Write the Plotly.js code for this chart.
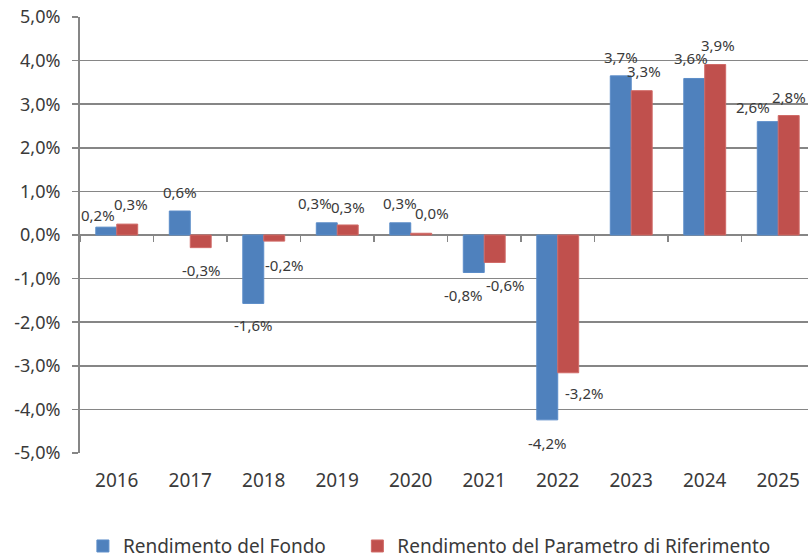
<!DOCTYPE html>
<html>
<head>
<meta charset="utf-8">
<script src="https://cdn.plot.ly/plotly-3.0.1.min.js"></script>
<style>html,body{margin:0;padding:0;background:#fff;}#chart{width:808px;height:558px;}</style>
</head>
<body>
<div id="chart"></div>
<script>
// ---- data ----
const years = ['2016','2017','2018','2019','2020','2021','2022','2023','2024','2025'];
const fondo = [0.18, 0.55, -1.57, 0.28, 0.28, -0.86, -4.24, 3.65, 3.59, 2.60];
const parametro = [0.25, -0.29, -0.14, 0.23, 0.04, -0.63, -3.16, 3.31, 3.91, 2.74];
const fondoLabels = ['0,2%','0,6%','-1,6%','0,3%','0,3%','-0,8%','-4,2%','3,7%','3,6%','2,6%'];
const parametroLabels = ['0,3%','-0,3%','-0,2%','0,3%','0,0%','-0,6%','-3,2%','3,3%','3,9%','2,8%'];
const yTickVals = [-5,-4,-3,-2,-1,0,1,2,3,4,5];
const yTickText = ['-5,0%','-4,0%','-3,0%','-2,0%','-1,0%','0,0%','1,0%','2,0%','3,0%','4,0%','5,0%'];
const seriesNames = ['Rendimento del Fondo','Rendimento del Parametro di Riferimento'];

// label placement tweaks (pixels)
const fondoLabelDx = [-8,0,0,-12,0,-11,0,0,-3,-15];
const fondoLabelDy = [12,19,22,20,20,22,23,19,20,15];
const paramLabelDx = [4,0,10,0,11,10,16,2,3,0];
const paramLabelDy = [20,22,24,18,20,23,20,20,20,19];

const BLUE = '#4F81BD', RED = '#C0504D', TXT = '#3a3a3a', GRID = '#868686';
const FONT = 'Noto Sans, Open Sans, sans-serif';

const traces = [
  {type:'bar', x:years, y:fondo, name:seriesNames[0], legend:'legend', marker:{color:BLUE, line:{color:'#5b8cc8', width:1}}, hoverinfo:'skip'},
  {type:'bar', x:years, y:parametro, name:seriesNames[1], legend:'legend2', marker:{color:RED, line:{color:'#d06a67', width:1}}, hoverinfo:'skip'},
  {type:'scatter', mode:'none', x:years, y:fondo, xaxis:'x2', showlegend:false, hoverinfo:'skip'}
];

const annotations = [];
const barHalf = 10.5;
years.forEach((yr,i)=>{
  const s1 = fondo[i] >= 0 ? 1 : -1;
  annotations.push({x:i, y:fondo[i], xref:'x', yref:'y', text:fondoLabels[i], showarrow:false,
    xshift:-barHalf + fondoLabelDx[i], yshift:s1*fondoLabelDy[i], xanchor:'center', yanchor:'middle',
    font:{family:FONT, size:15, color:TXT}});
  const s2 = parametro[i] >= 0 ? 1 : -1;
  annotations.push({x:i, y:parametro[i], xref:'x', yref:'y', text:parametroLabels[i], showarrow:false,
    xshift:barHalf + paramLabelDx[i], yshift:s2*paramLabelDy[i], xanchor:'center', yanchor:'middle',
    font:{family:FONT, size:15, color:TXT}});
});

const xRange = [-0.5, 9.405];
const legendFont = {family:FONT, size:19, color:TXT};
const layout = {
  width:808, height:558,
  margin:{l:80, r:0, t:17, b:105, autoexpand:false},
  paper_bgcolor:'#fff', plot_bgcolor:'#fff',
  font:{family:FONT, color:TXT, size:18},
  barmode:'group', bargap:0.43, bargroupgap:0,
  showlegend:true,
  legend:{orientation:'h', x:0.004, xanchor:'left', y:-0.17, yanchor:'top', font:legendFont},
  legend2:{orientation:'h', x:0.381, xanchor:'left', y:-0.17, yanchor:'top', font:legendFont},
  xaxis:{type:'category', categoryarray:years, range:xRange, showline:false, showgrid:false, zeroline:false,
    ticks:'', tickfont:{family:FONT, size:19, color:TXT}, ticklabelstandoff:14},
  xaxis2:{type:'category', categoryarray:years, range:xRange, overlaying:'x', anchor:'free', position:0.5,
    side:'bottom', showline:false, showgrid:false, zeroline:false, showticklabels:false,
    ticks:'outside', tickson:'boundaries', ticklen:6, tickwidth:1.5, tickcolor:GRID},
  yaxis:{range:[-5,5], tickvals:yTickVals, ticktext:yTickText, showgrid:true, gridcolor:GRID, gridwidth:1.5,
    zeroline:true, zerolinecolor:GRID, zerolinewidth:1.5,
    showline:true, linecolor:GRID, linewidth:2, ticks:'outside', ticklen:6, tickwidth:1.5, tickcolor:GRID,
    tickfont:{family:FONT, size:18, color:TXT}, ticklabelstandoff:8},
  annotations:annotations
};

Plotly.newPlot('chart', traces, layout, {staticPlot:true, displayModeBar:false});
</script>
</body>
</html>
